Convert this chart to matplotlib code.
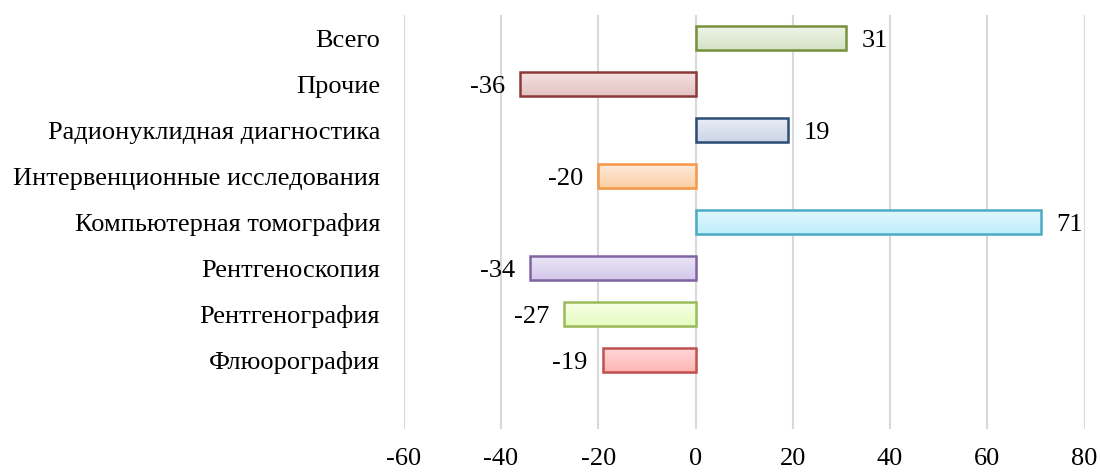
import numpy as np
import matplotlib.pyplot as plt
from matplotlib.colors import LinearSegmentedColormap

# Data (top to bottom as in the chart)
categories = ['Всего', 'Прочие', 'Радионуклидная диагностика', 'Интервенционные исследования',
              'Компьютерная томография', 'Рентгеноскопия', 'Рентгенография', 'Флюорография']
values = [31, -36, 19, -20, 71, -34, -27, -19]

# light (top) / dark (bottom) fill and edge colour for each bar
fill_top = ['#eef3e8', '#f4e2e2', '#e8edf6', '#feeadb', '#e2f8fe', '#ebe5f6', '#f6ffe6', '#ffd8d8']
fill_bottom = ['#d5e2c5', '#e3c2c2', '#cbd5e8', '#fbcfa4', '#bfeefb', '#d3c8ea', '#e6fcc0', '#ffb4b4']
edges = ['#76923c', '#8b3a38', '#2c4d75', '#f79646', '#4bacc6', '#8064a2', '#9bbb59', '#c0504d']

plt.rcParams['font.family'] = ['Liberation Serif', 'DejaVu Serif']
plt.rcParams['axes.unicode_minus'] = False

fig = plt.figure(figsize=(11, 4.73), dpi=100)
ax = fig.add_axes([0.367, 0.093, 0.619, 0.875])

n = len(categories)
ypos = np.arange(n)[::-1]
height = 0.52

# shadows
ax.barh(ypos - 0.05, values, height=height, left=0, color='#bfbfbf', alpha=0.35,
        linewidth=0, zorder=2)
bars = ax.barh(ypos, values, height=height, color='none', edgecolor=edges,
               linewidth=1.8, zorder=4)

for bar, c1, c2 in zip(bars, fill_top, fill_bottom):
    x0, y0 = bar.get_x(), bar.get_y()
    w, h = bar.get_width(), bar.get_height()
    cmap = LinearSegmentedColormap.from_list('g', [c2, c1])
    grad = np.linspace(0, 1, 50).reshape(-1, 1)
    im = ax.imshow(grad, cmap=cmap, aspect='auto', origin='lower',
                   extent=[min(x0, x0 + w), max(x0, x0 + w), y0, y0 + h], zorder=3)
    im.set_clip_path(bar)

for y, v in zip(ypos, values):
    if v >= 0:
        ax.annotate(str(v), (v, y), xytext=(11, 0), textcoords='offset points',
                    ha='left', va='center_baseline', fontsize=19)
    else:
        ax.annotate(str(v), (v, y), xytext=(-11, 0), textcoords='offset points',
                    ha='right', va='center_baseline', fontsize=19)

ax.set_xlim(-60, 80)
ax.set_ylim(-1.5, n - 0.5)
ax.set_xticks(range(-60, 81, 20))
ax.set_yticks(ypos)
ax.set_yticklabels(categories, va='center_baseline')
ax.tick_params(axis='both', length=0, labelsize=19)
ax.tick_params(axis='y', pad=17)
ax.tick_params(axis='x', pad=14)
for s in ax.spines.values():
    s.set_visible(False)
ax.grid(axis='x', color='#d9d9d9', linewidth=1.5, zorder=0)
ax.set_axisbelow(True)

fig.savefig('out.png', dpi=100)
